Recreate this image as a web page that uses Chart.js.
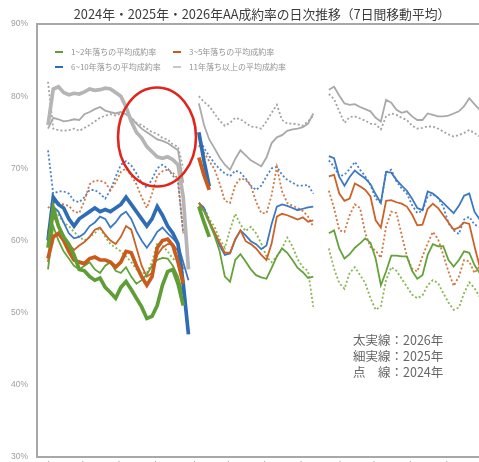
<!DOCTYPE html>
<html lang="ja">
<head>
<meta charset="utf-8">
<title>AA成約率の日次推移</title>
<script src="https://cdn.jsdelivr.net/npm/chart.js@4.4.1/dist/chart.umd.min.js"></script>
<style>
  html, body { margin: 0; padding: 0; background: #fff; overflow: hidden; }
  #chart { display: block; }
</style>
</head>
<body>
<canvas id="chart" width="490" height="480"></canvas>
<script>
// 日付インデックス（1日 = 1点、3つの期間の間は欠損）
const dayCount = 85;
const days = Array.from({ length: dayCount }, (_, i) => i);
const tickDays = [0, 7, 14, 21, 28, 35, 42, 49, 56, 63, 70, 77];
const tickLabels = ['1/6', '1/13', '1/20', '1/27', '2/3', '2/10', '2/17', '2/24', '3/3', '3/10', '3/17', '3/24'];
const yTicks = [30, 40, 50, 60, 70, 80, 90];

const titleText = '2024年・2025年・2026年AA成約率の日次推移（7日間移動平均）';
const groupNames = ['1~2年落ちの平均成約率', '3~5年落ちの平均成約率', '6~10年落ちの平均成約率', '11年落ち以上の平均成約率'];
const noteLines = ['太実線：2026年', '細実線：2025年', '点　線：2024年'];

// 2026年（太実線）
const gr26_1 = [59, 64.5, 62, 60.5, 59.5, 58, 56, 55.8, 55, 54.5, 54.8, 53.5, 52.8, 52, 53.5, 54.3, 53.2, 52, 50.8, 49.2, 49.5, 51, 53.8, 55.7, 56, 54, 51, null];
const or26_1 = [57.5, 60.5, 61, 60, 58.5, 57.3, 57, 56.8, 57.5, 57.7, 57.3, 57.3, 57, 56.3, 57, 58.5, 58.3, 56.5, 55, 53.8, 55, 59, 60, 60.2, 59.3, 57, 54, null];
const bl26_1 = [60, 66, 65, 64.5, 63, 62, 63, 63.5, 64, 64.5, 64, 64.3, 64, 64.5, 65, 66, 65, 64, 63, 62, 63, 64.7, 63.5, 62, 61, 59.5, 54, 47];
const gy26_1 = [76, 81, 81.3, 80.5, 80.2, 80.4, 80.3, 80.6, 81, 80.8, 80.9, 81.1, 81, 80.5, 80, 78.5, 76.5, 75, 74.2, 73, 72.3, 71.6, 71.4, 71.6, 71.2, 70.5, 66, 56];
const gr26_2 = [64.7, 62.5, 60.5];
const or26_2 = [71.5, 69, 67];
const bl26_2 = [75, 71, 67.5];

// 2025年（細実線）
const gr25_1 = [56, 62, 60, 58.5, 57.5, 56.5, 56, 56.5, 57, 56, 55.5, 56.5, 57, 55.8, 55.5, 56.3, 55, 54, 54.5, 55.3, 56.5, 57.3, 57.6, 57.5, 56.5, 55, 52.5, null];
const or25_1 = [57, 63.5, 62, 60.5, 59.5, 58.7, 59.3, 59.8, 60.5, 61.5, 61.8, 60.8, 60, 59.5, 60.5, 62, 61.5, 59, 56.5, 55, 55.5, 58, 59, 59.5, 59.5, 58.5, 56, null];
const bl25_1 = [61, 64.7, 64, 62.5, 61, 60.3, 60.5, 61, 62, 62.5, 63.3, 63, 61.8, 62.5, 63.5, 64, 63, 61.3, 60, 59, 60, 61.2, 61.8, 61, 60.3, 59.5, 57, 54.5];
const gy25_1 = [75.5, 77, 76.8, 76.5, 76.6, 76.8, 76.7, 77.5, 77.8, 78.2, 78.5, 78, 77.8, 77.6, 77.8, 77.5, 77, 76.2, 75.5, 75, 74.5, 74, 73.8, 73.5, 73, 72.5, 68, null];
const gr25_2 = [64.8, 64.1, 62.4, 60.7, 58.5, 55, 54.3, 57.3, 58.1, 57.1, 56, 55.2, 54.9, 54.7, 56.2, 57.8, 58.9, 58.3, 57.3, 56.2, 55.6, 54.8, 55];
const or25_2 = [65.2, 64.1, 62.6, 61.2, 59.7, 58.3, 58.3, 60.2, 61.4, 59.9, 59.5, 58.9, 58, 57.3, 59.6, 63.3, 63.7, 63.5, 63.2, 62.9, 63.2, 62.6, 62.8];
const bl25_2 = [65.2, 64.5, 62.6, 61, 59.3, 58, 58.2, 60.1, 61.4, 60.7, 59.9, 59.5, 58.8, 59.3, 62.3, 64.7, 65, 64.8, 64.5, 64.2, 64.4, 64.6, 64.7];
const gy25_2 = [79, 76, 74, 72.8, 71.5, 70.5, 69.8, 71.3, 72.5, 71.8, 71.1, 70.7, 70.3, 71.5, 73.5, 74.3, 74.6, 75.2, 75.4, 75.5, 75.7, 76.2, 77.6];
const gr25_3 = [61, 61.4, 58.9, 57.5, 58.1, 59, 59.6, 60.3, 59.7, 57.5, 53.8, 55.7, 57.9, 57.9, 57.8, 57.8, 55.8, 54.7, 55.2, 58, 59.5, 59.2, 59.2, 57.3, 56.4, 57.3, 58.5, 58.3, 56.6, 55.5, 55.2];
const or25_3 = [68.9, 69.1, 66.5, 65.5, 65.8, 67.9, 67.5, 67, 66.1, 62.8, 61.8, 65.5, 65.6, 65.3, 65.1, 64.7, 63.6, 62.1, 62.2, 64.4, 65.1, 64.5, 63.5, 62.5, 61.5, 61.8, 62.5, 62.3, 59.2, 56.4, 56];
const bl25_3 = [71.7, 71.4, 68.8, 67.6, 68.8, 69.7, 69.1, 68.6, 67.8, 66.4, 65.2, 69.5, 69.4, 68.4, 67.6, 66.9, 65.8, 64.5, 64.2, 66.8, 66.5, 65.9, 65.2, 64.5, 63.8, 64.8, 66.2, 66.5, 64, 62.9, 62.6];
const gy25_3 = [80.9, 81.3, 80.1, 79, 78.8, 78.9, 78.5, 78.2, 77.9, 77, 76.5, 79.5, 79.1, 78.1, 77.7, 77.9, 77.2, 76.7, 76.7, 77.6, 77.4, 77.2, 77.2, 77.3, 77.6, 77.9, 78.6, 79.7, 78.9, 78.1, 78];

// 2024年（点線）
const gr24_1 = [61, 64.5, 63.5, 62.5, 62, 61.2, 60.5, 60, 60.5, 61, 61.8, 60.5, 59.5, 59, 58.5, 57.8, 57, 56, 55.5, 55.5, 57, 59.7, 59.3, 58.5, 57.5, 57, 55.5, null];
const or24_1 = [64.5, 65.3, 65.2, 65, 64.8, 64, 63.8, 65.5, 67.8, 68.3, 68.3, 68, 67, 68, 69.5, 70, 69, 67.8, 66, 64.5, 66.5, 69, 69.6, 69.8, 69.4, 68.5, 61, null];
const bl24_1 = [72.5, 66.5, 66.8, 66.8, 66.5, 65.5, 65.3, 66, 67, 67, 66.5, 65.8, 67, 68.8, 70.5, 71, 70.4, 69.3, 68, 67.3, 68.5, 70, 70.5, 70, 69, 68, 61, null];
const gy24_1 = [82, 75.5, 75.3, 75.2, 75.3, 75.5, 75.2, 75.6, 76, 76.5, 77, 77.3, 77.5, 77.3, 77.6, 77.5, 77, 76.3, 76, 75.5, 75, 74.8, 74.2, 74, 73.3, 73, 70, null];
const gr24_2 = [65.2, 64.6, 63, 61.9, 60.2, 59, 61.5, 63.7, 62.2, 61.3, 61.9, 61, 59.6, 57.8, 57, 57.8, 58.9, 60.4, 59.2, 57.4, 56.3, 55.8, 50.8];
const or24_2 = [73.2, 72.2, 71, 69.9, 67.9, 65.5, 65.2, 67.7, 68.6, 68.4, 67.6, 65.4, 63.8, 63.8, 66.3, 70.2, 66.8, 65.2, 64.8, 64.5, 64.1, 63.3, 61.9];
const bl24_2 = [74.2, 72.8, 71.7, 70.7, 69.9, 69.3, 68.9, 69.7, 69.4, 68.6, 67.6, 67, 67.6, 68.9, 70, 70.2, 69.1, 68.4, 68, 67.6, 67.6, 67.7, 66.5];
const gy24_2 = [80, 79.2, 78.6, 77.6, 76.6, 75.9, 76.3, 77, 76.8, 76.3, 75.8, 75.7, 75.5, 76.5, 77.7, 78.8, 76.7, 76.2, 76.2, 76.1, 75.9, 76.5, 77.3];
const gr24_3 = [58.9, 56.1, 54.1, 53.3, 55.5, 56.3, 55.2, 54.1, 52, 50.4, 50.9, 54.5, 56.3, 55.8, 54.7, 53.6, 52.5, 52, 52.4, 53.8, 54.5, 54.1, 52.7, 51.4, 50.4, 50.7, 52.7, 54.2, 53.4, 52.2, 52];
const or24_3 = [66.9, 64.5, 61.4, 61.2, 63.5, 65, 64.5, 61, 59.1, 58.6, 57.6, 61.9, 64, 63.8, 60.8, 57.8, 56.1, 55.7, 57.8, 59.6, 61.2, 60.2, 58, 55.7, 53.7, 55, 57.3, 57.1, 55.5, 56.4, 56];
const bl24_3 = [71.1, 70.2, 68.9, 69.1, 69.9, 70.9, 69.8, 68.9, 67.7, 65.8, 65.2, 69.5, 69.8, 68.2, 67.2, 66.5, 64.9, 63.8, 64.1, 66.1, 66.4, 65.9, 64.7, 62.4, 61.4, 60.9, 62.9, 63.3, 62.2, 61.9, 61.8];
const gy24_3 = [80.3, 79.6, 77.9, 76.3, 77.1, 77.2, 76.9, 76.6, 76.2, 76.1, 75.4, 77.2, 77.6, 77.4, 77, 76.7, 75.9, 75.5, 75.6, 75.8, 75.8, 75.5, 75.1, 74.7, 74.4, 74.6, 74.9, 75.3, 74.9, 74.4, 74.3];

// 期間をつなぐ（間は null で切る）
function joinSegments(s1, s2, s3) {
    return [...s1, null, ...(s2 || []), null, null, ...(s3 || [])];
}

const colors = { green: '#5E9E34', orange: '#C95B1D', blue: '#2E6DB6', gray: '#B5B5B5' };
const thinColors = { green: '#64A33A', orange: '#CB6228', blue: '#3C79C2', gray: '#A9A9A9' };
const dotColors = { green: '#8AB552', orange: '#D2773F', blue: '#4C82C9', gray: '#A3A3A3' };

function line(label, data, color, kind) {
    const ds = {
        label: label,
        data: data,
        borderColor: color,
        backgroundColor: color,
        borderWidth: 1.8,
        pointRadius: 0,
        tension: 0,
        spanGaps: false,
        fill: false
    };
    if (kind === 'thick') ds.borderWidth = 3.7;
    if (kind === 'dot') { ds.borderDash = [2, 2.2]; ds.borderWidth = 1.8; }
    return ds;
}

const datasets = [
    line('2026 1~2年', joinSegments(gr26_1, gr26_2), colors.green, 'thick'),
    line('2026 3~5年', joinSegments(or26_1, or26_2), colors.orange, 'thick'),
    line('2026 6~10年', joinSegments(bl26_1, bl26_2), colors.blue, 'thick'),
    line('2026 11年~', joinSegments(gy26_1), colors.gray, 'thick'),
    line('2025 1~2年', joinSegments(gr25_1, gr25_2, gr25_3), thinColors.green, 'thin'),
    line('2025 3~5年', joinSegments(or25_1, or25_2, or25_3), thinColors.orange, 'thin'),
    line('2025 6~10年', joinSegments(bl25_1, bl25_2, bl25_3), thinColors.blue, 'thin'),
    line('2025 11年~', joinSegments(gy25_1, gy25_2, gy25_3), thinColors.gray, 'thin'),
    line('2024 1~2年', joinSegments(gr24_1, gr24_2, gr24_3), dotColors.green, 'dot'),
    line('2024 3~5年', joinSegments(or24_1, or24_2, or24_3), dotColors.orange, 'dot'),
    line('2024 6~10年', joinSegments(bl24_1, bl24_2, bl24_3), dotColors.blue, 'dot'),
    line('2024 11年~', joinSegments(gy24_1, gy24_2, gy24_3), dotColors.gray, 'dot')
];

const jpFont = "'Noto Sans CJK JP', 'Noto Sans', sans-serif";

// タイトル・枠・凡例・注記・赤丸
const decor = {
    id: 'decor',
    afterDraw(chart) {
        const ctx = chart.ctx;
        const area = chart.chartArea;
        ctx.save();

        // 上枠
        ctx.strokeStyle = '#A8A8A8';
        ctx.lineWidth = 2;
        ctx.beginPath();
        ctx.moveTo(area.left, area.top);
        ctx.lineTo(area.right, area.top);
        ctx.stroke();

        // タイトル
        ctx.fillStyle = '#3C3C3C';
        ctx.font = '12.8px ' + jpFont;
        ctx.textAlign = 'center';
        ctx.textBaseline = 'middle';
        ctx.fillText(titleText, 262, 14);

        // 凡例
        const legendColors = [colors.green, colors.orange, colors.blue, '#C8C8C8'];
        const spots = [[55, 52], [173, 52], [55, 67], [173, 67]];
        ctx.font = '8px ' + jpFont;
        ctx.textAlign = 'left';
        groupNames.forEach((name, i) => {
            const [x, y] = spots[i];
            ctx.strokeStyle = legendColors[i];
            ctx.lineWidth = 2;
            ctx.beginPath();
            ctx.moveTo(x, y);
            ctx.lineTo(x + 8, y);
            ctx.stroke();
            ctx.fillStyle = '#939393';
            ctx.fillText(name, x + 16, y);
        });

        // 注記
        ctx.fillStyle = '#666666';
        ctx.font = '12.5px ' + jpFont;
        noteLines.forEach((t, i) => ctx.fillText(t, 353, 340 + i * 16));

        // 赤丸
        ctx.strokeStyle = '#E0261C';
        ctx.lineWidth = 2.6;
        ctx.beginPath();
        ctx.ellipse(157, 137, 39, 49.5, 0, 0, Math.PI * 2);
        ctx.stroke();

        ctx.restore();
    }
};

new Chart(document.getElementById('chart'), {
    type: 'line',
    data: { labels: days, datasets: datasets },
    plugins: [decor],
    options: {
        responsive: false,
        animation: false,
        layout: { padding: { top: 24, right: 2, left: 0, bottom: 0 } },
        plugins: {
            legend: { display: false },
            title: { display: false },
            tooltip: { enabled: false }
        },
        scales: {
            x: {
                type: 'linear',
                min: -2.12,
                max: 84.6,
                afterBuildTicks: (s) => { s.ticks = tickDays.map(v => ({ value: v })); },
                afterFit: (s) => { s.height = 23; },
                grid: { display: false, drawTicks: false },
                border: { display: true, color: '#A8A8A8', width: 2 },
                ticks: {
                    autoSkip: false,
                    maxRotation: 0,
                    padding: 3,
                    color: '#777',
                    font: { size: 9 },
                    callback: (v) => tickLabels[tickDays.indexOf(v)] ?? ''
                }
            },
            y: {
                min: 30,
                max: 90,
                afterBuildTicks: (s) => { s.ticks = yTicks.map(v => ({ value: v })); },
                afterFit: (s) => { s.width = 37; },
                grid: { display: false, drawTicks: false },
                border: { display: true, color: '#A8A8A8', width: 2 },
                ticks: {
                    padding: 9,
                    color: '#9E9E9E',
                    font: { size: 8.5 },
                    callback: (v) => v + '%'
                }
            }
        }
    }
});
</script>
</body>
</html>
